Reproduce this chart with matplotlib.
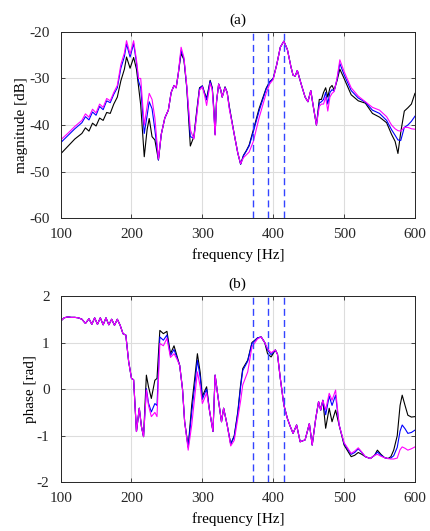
import matplotlib

matplotlib.use("Agg")
import matplotlib.pyplot as plt

# magnitude, panel (a)
f_mag = [100, 110, 120, 130, 135, 140, 145, 150, 155, 160, 165, 170, 175, 180, 185,
         190, 193, 198, 203, 207, 210, 213, 218, 222, 225, 229, 233, 238, 242, 247,
         252, 256, 260, 263, 266, 270, 274, 278, 283, 288, 292, 296, 300, 303, 306,
         309, 311, 314, 316, 318, 320, 323, 326, 328, 332, 335, 338, 345, 350, 354,
         358, 362, 366, 372, 380, 390, 395, 400, 405, 410, 415, 420, 425, 428, 431,
         434, 440, 445, 449, 453, 456, 461, 465, 468, 471, 474, 477, 480, 483, 486,
         490, 494, 500, 510, 520, 530, 540, 550, 560, 567, 572, 576, 580, 585, 590,
         595, 600]
mag_black = [-46.2, -44.6, -43.0, -41.8, -40.6, -41.3, -39.6, -40.2, -38.5, -39.0, -37.3, -37.5, -35.5, -34.0, -30.5,
             -28.0, -25.4, -27.8, -25.5, -28.0, -31.8, -35.7, -46.8, -41.0, -38.6, -42.5, -43.2, -47.5, -42.0, -38.5,
             -36.8, -33.0, -31.5, -32.0, -29.0, -24.6, -26.0, -32.0, -44.5, -42.5, -37.0, -32.0, -31.6, -33.0, -34.3,
             -32.0, -30.4, -32.0, -36.0, -42.0, -35.0, -31.2, -32.5, -34.0, -31.8, -33.0, -36.0, -42.0, -46.0, -48.4,
             -46.5, -45.5, -44.3, -41.0, -36.5, -32.1, -30.7, -30.0, -27.0, -23.3, -22.0, -23.8, -27.5, -29.3, -29.5,
             -28.3, -31.5, -34.0, -35.0, -32.6, -35.5, -40.0, -34.5, -34.5, -33.0, -32.0, -34.0, -32.0, -31.5, -32.5,
             -30.5, -28.0, -30.0, -33.5, -34.8, -35.3, -37.5, -38.3, -39.5, -42.0, -43.5, -46.1, -41.5, -37.0, -36.3,
             -35.5, -33.2]
mag_blue = [-43.8, -42.3, -40.8, -39.5, -38.2, -38.9, -37.2, -37.9, -36.0, -36.7, -34.8, -35.2, -33.4, -32.0, -27.8,
            -25.3, -22.6, -25.4, -22.5, -26.6, -30.6, -32.0, -41.8, -38.0, -35.0, -36.5, -41.0, -47.5, -42.0, -38.5,
            -36.8, -33.0, -31.5, -32.0, -29.0, -24.0, -25.8, -31.8, -42.5, -42.8, -37.5, -32.2, -31.6, -33.2, -34.6,
            -32.3, -30.6, -32.2, -36.5, -42.0, -35.0, -31.2, -32.5, -34.0, -31.9, -33.0, -36.2, -42.0, -46.0, -48.4,
            -46.6, -45.6, -44.5, -41.4, -37.0, -32.3, -30.8, -30.0, -27.0, -23.3, -22.0, -23.8, -27.5, -29.3, -29.5,
            -28.3, -31.5, -34.0, -35.0, -32.6, -35.5, -40.0, -35.3, -35.0, -34.5, -33.0, -35.5, -33.0, -32.4, -32.7,
            -30.2, -26.8, -29.2, -32.6, -34.2, -35.1, -36.8, -37.5, -39.0, -41.0, -42.2, -43.2, -43.3, -40.5, -40.0,
            -39.2, -38.1]
mag_magenta = [-43.2, -41.8, -40.3, -39.0, -37.6, -38.3, -36.6, -37.4, -35.5, -36.2, -34.3, -34.8, -33.0, -31.5, -27.0,
               -24.5, -21.9, -24.8, -21.9, -26.0, -30.0, -30.0, -40.0, -36.0, -33.2, -34.5, -38.5, -47.3, -42.0, -38.5,
               -36.8, -33.0, -31.5, -32.0, -29.0, -23.3, -25.5, -31.5, -41.0, -43.0, -38.0, -32.5, -31.8, -33.5, -35.8,
               -33.0, -31.0, -32.5, -37.0, -42.2, -35.0, -31.2, -32.5, -34.0, -32.0, -33.0, -36.5, -42.0, -46.0, -48.3,
               -47.0, -46.4, -45.8, -43.5, -38.5, -33.2, -31.2, -30.2, -27.0, -23.3, -22.0, -23.8, -27.5, -29.3, -29.5,
               -28.3, -31.5, -34.0, -35.0, -32.6, -35.5, -40.0, -36.0, -35.5, -35.5, -34.0, -37.0, -34.0, -33.2, -32.8,
               -30.0, -26.0, -28.5, -32.0, -33.8, -35.0, -36.2, -36.8, -38.2, -40.0, -40.8, -41.2, -41.3, -40.5, -40.5,
               -40.8, -40.9]

# phase, panel (b)
f_ph = [100, 105, 110, 115, 120, 125, 130, 135, 140, 144, 148, 152, 156, 160, 164,
        168, 172, 176, 180, 184, 188, 192, 196, 200, 203, 207, 211, 214, 217, 221,
        224, 228, 233, 236, 240, 245, 250, 255, 260, 264, 268, 272, 275, 280, 285,
        289, 293, 297, 300, 303, 306, 310, 315, 318, 323, 327, 330, 335, 340, 345,
        350, 354, 357, 364, 370, 378, 383, 388, 392, 397, 403, 406, 410, 415, 420,
        424, 428, 433, 438, 445, 451, 455, 460, 464, 467, 470, 474, 479, 483, 488,
        493, 500, 510, 515, 520, 525, 530, 537, 543, 547, 552, 557, 562, 566, 570,
        575, 579, 582, 586, 590, 595, 600]
ph_black = [1.46, 1.53, 1.55, 1.54, 1.54, 1.53, 1.50, 1.41, 1.51, 1.39, 1.53, 1.39, 1.53, 1.38, 1.53,
            1.38, 1.50, 1.37, 1.50, 1.37, 1.19, 1.16, 0.59, 0.23, 0.20, -0.91, -0.41, -0.80, -1.02, 0.30,
            0.05, -0.20, 0.19, 0.23, 1.26, 1.19, 1.24, 0.76, 0.93, 0.72, 0.51, 0.00, -0.70, -1.24, -0.34,
            0.20, 0.76, 0.35, -0.16, -0.05, 0.05, -0.45, -0.91, 0.30, -0.27, -0.70, -0.41, -0.77, -1.18, -1.00,
            -0.49, 0.10, 0.44, 0.62, 1.00, 1.10, 1.12, 1.00, 0.76, 0.69, 0.84, 0.75, 0.23, -0.34, -0.63,
            -0.80, -0.95, -0.77, -1.13, -1.09, -0.74, -1.20, -0.63, -0.27, -0.45, -0.24, -0.84, -0.41, -0.70, -0.45,
            -0.77, -1.20, -1.45, -1.42, -1.36, -1.40, -1.45, -1.49, -1.42, -1.31, -1.40, -1.47, -1.49, -1.45, -1.31,
            -1.00, -0.35, -0.13, -0.35, -0.56, -0.60, -0.59]
ph_blue = [1.46, 1.53, 1.55, 1.54, 1.54, 1.53, 1.50, 1.41, 1.51, 1.39, 1.53, 1.39, 1.53, 1.38, 1.53,
           1.38, 1.50, 1.37, 1.50, 1.37, 1.19, 1.16, 0.59, 0.23, 0.20, -0.91, -0.41, -0.80, -1.02, 0.01,
           -0.30, -0.49, -0.31, -0.35, 1.12, 1.05, 1.16, 0.72, 0.85, 0.68, 0.51, 0.00, -0.70, -1.25, -0.50,
           0.05, 0.62, 0.25, -0.22, -0.10, 0.00, -0.45, -0.91, 0.30, -0.27, -0.70, -0.41, -0.77, -1.18, -1.02,
           -0.52, 0.05, 0.40, 0.60, 0.98, 1.10, 1.12, 1.00, 0.84, 0.74, 0.84, 0.75, 0.23, -0.34, -0.63,
           -0.80, -0.95, -0.77, -1.13, -1.09, -0.74, -1.20, -0.63, -0.27, -0.45, -0.24, -0.55, -0.15, -0.35, -0.13,
           -0.77, -1.17, -1.40, -1.36, -1.28, -1.36, -1.45, -1.49, -1.42, -1.35, -1.42, -1.47, -1.49, -1.48, -1.43,
           -1.25, -0.90, -0.77, -0.85, -0.95, -0.93, -0.88]
ph_magenta = [1.46, 1.53, 1.55, 1.54, 1.54, 1.53, 1.50, 1.41, 1.51, 1.39, 1.53, 1.39, 1.53, 1.38, 1.53,
              1.38, 1.50, 1.37, 1.50, 1.37, 1.19, 1.16, 0.59, 0.23, 0.20, -0.91, -0.41, -0.80, -1.02, -0.02,
              -0.35, -0.59, -0.50, -0.59, 0.98, 0.93, 1.09, 0.68, 0.76, 0.65, 0.51, 0.00, -0.70, -1.31, -0.77,
              -0.20, 0.37, 0.05, -0.31, -0.20, -0.08, -0.45, -0.91, 0.30, -0.27, -0.70, -0.41, -0.77, -1.22, -1.10,
              -0.63, -0.25, 0.09, 0.37, 0.91, 1.08, 1.12, 1.00, 0.87, 0.78, 0.84, 0.75, 0.23, -0.34, -0.63,
              -0.80, -0.95, -0.77, -1.13, -1.09, -0.74, -1.20, -0.63, -0.27, -0.45, -0.24, -0.44, -0.09, -0.24, -0.02,
              -0.77, -1.15, -1.38, -1.33, -1.26, -1.35, -1.45, -1.49, -1.42, -1.40, -1.44, -1.47, -1.49, -1.50, -1.50,
              -1.48, -1.30, -1.24, -1.27, -1.31, -1.28, -1.24]

marker_freqs = [371, 392, 415]

plt.rcParams["font.family"] = ["Liberation Serif", "DejaVu Serif"]
plt.rcParams["font.size"] = 11
plt.rcParams["axes.unicode_minus"] = False

fig = plt.figure(figsize=(4.3, 5.31), dpi=100)
ax_a = fig.add_axes([0.141, 0.589, 0.824, 0.351])
ax_b = fig.add_axes([0.141, 0.0917, 0.824, 0.351])


def style(ax, ylim, yticks):
    ax.set_xlim(100, 600)
    ax.set_ylim(*ylim)
    ax.set_xticks([100, 200, 300, 400, 500, 600])
    ax.set_yticks(yticks)
    ax.grid(True, color="#dddddd", linewidth=0.8)
    ax.set_axisbelow(True)
    ax.tick_params(direction="in", top=True, right=True, length=3, width=0.6,
                   colors="#262626", labelsize=11)
    ax.tick_params(axis="x", pad=7)
    ax.tick_params(axis="y", pad=8)
    for s in ax.spines.values():
        s.set_color("#262626")
        s.set_linewidth(0.7)
    ax.set_xlabel("frequency [Hz]", labelpad=5)


for ax, f, series in [(ax_a, f_mag, (mag_black, mag_blue, mag_magenta)),
                      (ax_b, f_ph, (ph_black, ph_blue, ph_magenta))]:
    for vals, color in zip(series, ["black", "#0000ff", "#ff00ff"]):
        ax.plot(f, vals, color=color, linewidth=0.8)
    for fm in marker_freqs:
        ax.axvline(fm, color="#3344ff", linestyle=(0, (5, 3)), linewidth=1.0)

style(ax_a, (-60, -20), [-60, -50, -40, -30, -20])
style(ax_b, (-2, 2), [-2, -1, 0, 1, 2])
ax_a.set_ylabel("magnitude [dB]", labelpad=0.5)
ax_b.set_ylabel("phase [rad]", labelpad=0)
ax_a.set_title("(a)", fontsize=11, pad=6)
ax_b.set_title("(b)", fontsize=11, pad=6)

fig.savefig("out.png", dpi=100)
plt.close(fig)
